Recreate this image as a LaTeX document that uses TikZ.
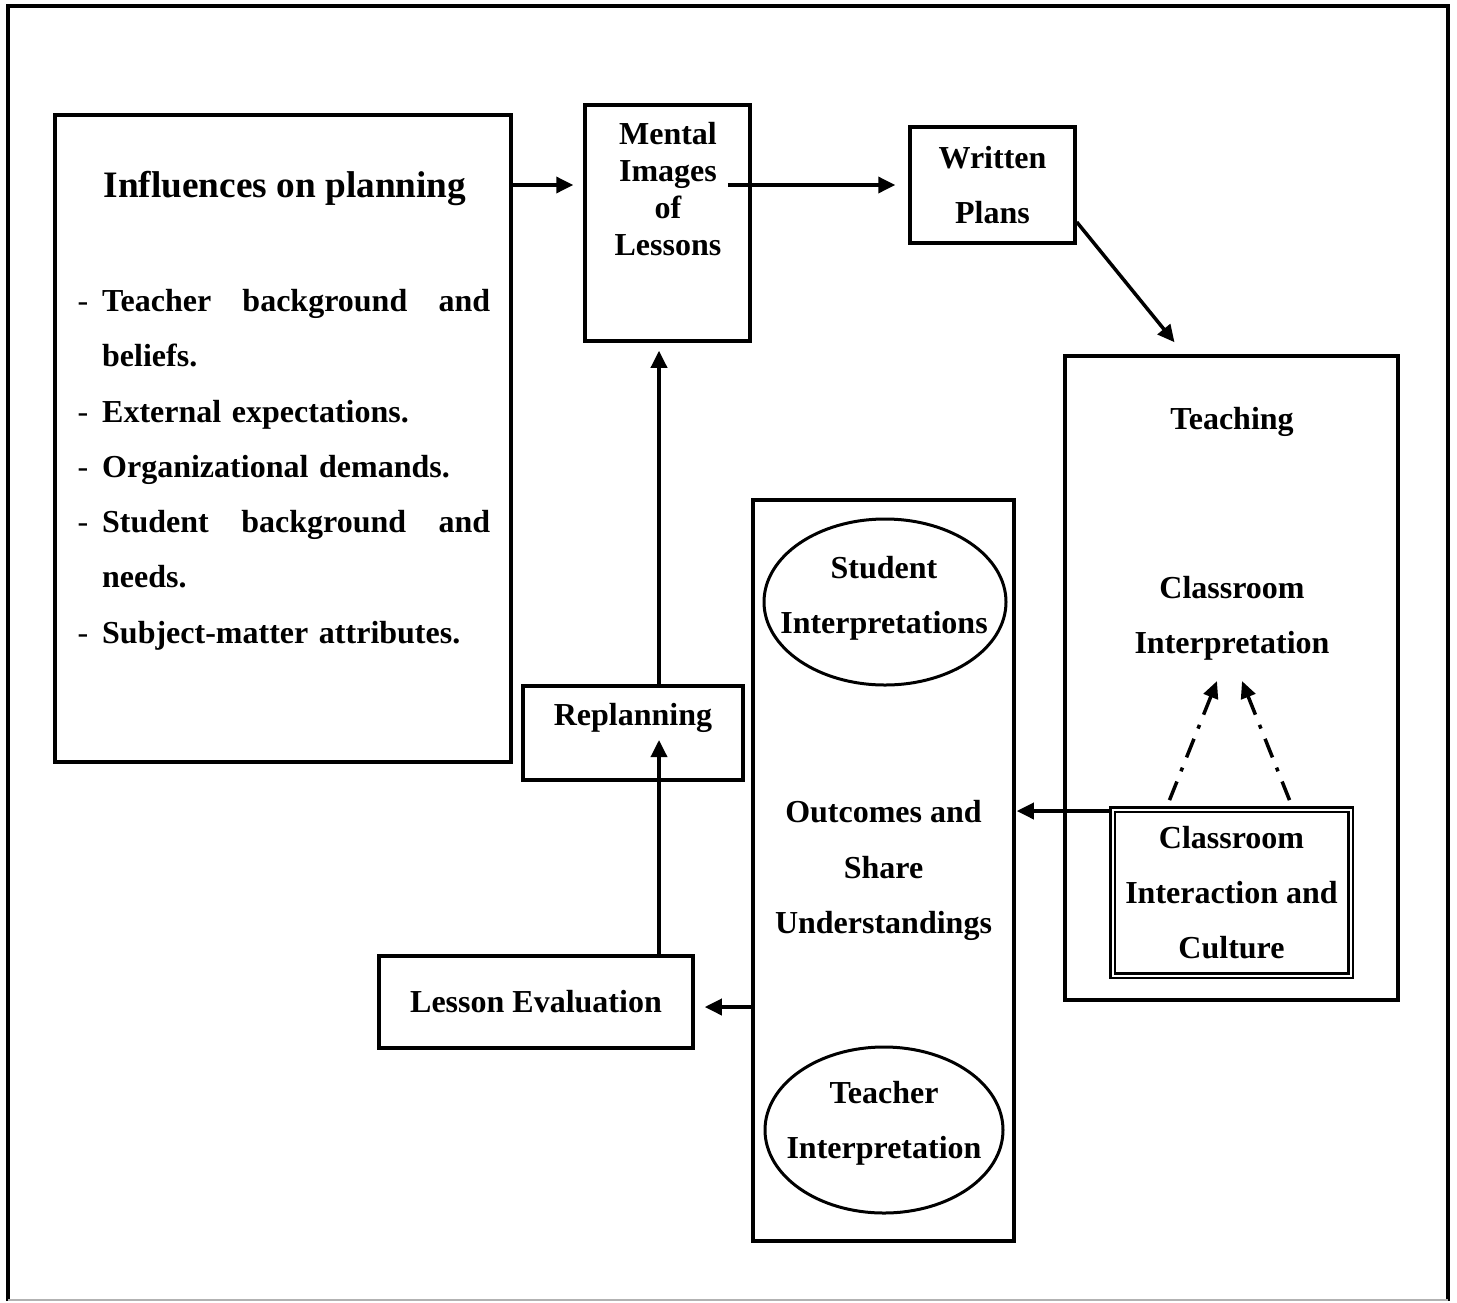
\documentclass[tikz,border=0pt]{standalone}
\usepackage{fontspec}
\setmainfont{Liberation Serif}
\usetikzlibrary{arrows.meta,shapes.geometric}
\newcommand{\bodyfont}{\fontsize{32}{55.3}\selectfont\bfseries}
\newcommand{\tightfont}{\fontsize{32}{36.7}\selectfont\bfseries}
\newcommand{\titlefont}{\fontsize{37.3}{45}\selectfont\bfseries}
\newcommand{\itemdash}{\leavevmode\llap{\mdseries-\hspace{14pt}}}
\tikzset{
  frame/.style={draw,line width=3.5pt,inner sep=0pt},
  lbl/.style={font=\bodyfont,align=center,inner sep=0pt},
  arr/.style={-{Triangle[length=17pt,width=16pt]},line width=3.5pt},
  dotdash/.style={-{Triangle[length=17pt,width=15pt]},line width=3.5pt,
                  dash pattern=on 20pt off 11pt on 4pt off 11pt}
}

\begin{document}
\begin{tikzpicture}[x=1pt,y=-1pt]
  \useasboundingbox (0,0) rectangle (1457,1302);
  % page frame
  \draw[line width=4.5pt] (8,1301) -- (8,6) -- (1448,6) -- (1448,1301);
  \draw[gray!60,line width=1.5pt] (8,1300) -- (1448,1300);

  % influences
  \node[frame,minimum width=456pt,minimum height=647pt] (infl) at (283,438.5) {};
  \node[font=\titlefont,inner sep=0pt] (infltitle) at (285,188) {Influences on planning};
  \node[font=\bodyfont,text width=388pt,align=left,inner sep=0pt,anchor=north west]
       (infltxt) at (102,289) {%
    \itemdash Teacher\hfill background\hfill and\\
    beliefs.\\
    \itemdash External expectations.\\
    \itemdash Organizational demands.\\
    \itemdash Student\hfill background\hfill and\\
    needs.\\
    \itemdash Subject-matter attributes.};

  % planning column
  \node[frame,minimum width=165pt,minimum height=236pt] (mental) at (667.5,223) {};
  \node[lbl,font=\tightfont] (mentaltxt) at (668,189) {Mental\\Images\\of\\Lessons};
  \node[frame,lbl,minimum width=165pt,minimum height=116pt] (written) at (992.5,185)
       {Written\\Plans};
  \node[frame,minimum width=220pt,minimum height=94pt] (replan) at (633,733) {};
  \node[lbl] (replantxt) at (633,718) {Replanning};
  \node[frame,lbl,minimum width=314pt,minimum height=92pt] (evalbox) at (536,1002)
       {Lesson Evaluation};

  % outcomes
  \node[frame,lbl,minimum width=261pt,minimum height=741pt] (outcomes) at (883.5,870.5)
       {Outcomes and\\Share\\Understandings};
  \node[draw,ellipse,line width=3pt,minimum width=242pt,minimum height=166pt,
        inner sep=0pt] (studell) at (885,602) {};
  \node[lbl] (studtxt) at (884,598) {Student\\Interpretations};
  \node[draw,ellipse,line width=3pt,minimum width=238pt,minimum height=166pt,
        inner sep=0pt] (teachell) at (884,1130) {};
  \node[lbl] (teachtxt) at (884,1123) {Teacher\\Interpretation};

  % teaching
  \node[frame,minimum width=333pt,minimum height=644pt] (teaching) at (1231.5,678) {};
  \node[lbl] (teachlbl) at (1232,422) {Teaching};
  \node[lbl] (interp) at (1232,618) {Classroom\\Interpretation};
  \node[draw,double,line width=2.8pt,double distance=2pt,lbl,
        minimum width=238pt,minimum height=166pt] (cic) at (1231.5,892.5)
       {Classroom\\Interaction and\\Culture};

  % connectors
  \coordinate (ytop) at (0,185);
  \coordinate (xv) at (659,0);
  \coordinate (ylow) at (0,1007);
  \coordinate (ymid) at (0,811);
  \coordinate (tipl) at (1217,681);
  \coordinate (tipr) at (1242,681);
  \draw[arr,shorten >=10pt] (infl.east |- ytop) -- (mental.west |- ytop);
  \draw[arr,shorten <=-24pt,shorten >=13pt] (mental.east |- ytop) -- (written.west |- ytop);
  \draw[arr] ([yshift=-37pt]written.east) -- ([xshift=-57pt,yshift=12pt]teaching.north);
  \draw[arr,shorten >=8pt] (replan.north -| xv) -- (mental.south -| xv);
  \draw[arr,shorten >=7pt] (evalbox.north -| xv) -- (replan.center -| xv);
  \draw[arr,shorten >=10pt] (outcomes.west |- ylow) -- (evalbox.east |- ylow);
  \draw[arr,shorten >=1pt] (cic.west |- ymid) -- (outcomes.east |- ymid);
  \draw[dotdash] ([xshift=-62pt,yshift=8pt]cic.north) -- (tipl);
  \draw[dotdash] ([xshift=58pt,yshift=8pt]cic.north) -- (tipr);
\end{tikzpicture}
\end{document}
